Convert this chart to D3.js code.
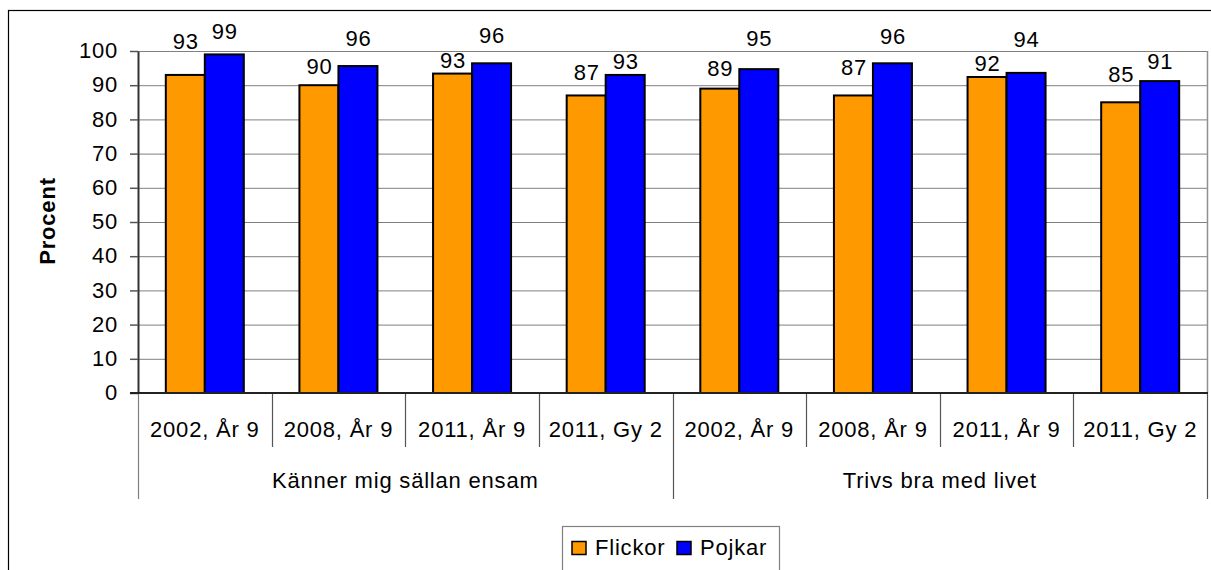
<!DOCTYPE html>
<html>
<head>
<meta charset="utf-8">
<script src="https://cdn.jsdelivr.net/npm/d3@7"></script>
<style>
    body { margin: 0; background: #fff; }
    svg { display: block; font-family: "Liberation Sans", Arial, sans-serif; }
    .lbl { font-size: 22px; letter-spacing: 0.8px; fill: #000; }
</style>
</head>
<body>
<div id="chart"></div>
<script>
"use strict";

// data
var groups = ["Känner mig sällan ensam", "Trivs bra med livet"];
var periods = ["2002, År 9", "2008, År 9", "2011, År 9", "2011, Gy 2"];
var seriesNames = ["Flickor", "Pojkar"];
var flickor = [93, 90, 93.4, 87, 89, 87, 92.4, 85];
var pojkar = [99, 95.6, 96.4, 93, 94.7, 96.4, 93.6, 91.2];
var yTicks = [0, 10, 20, 30, 40, 50, 60, 70, 80, 90, 100];

var colors = ["#FF9900", "#0000FF"];
// the value labels were nudged by hand in the original (px above bar top)
var labelLift = [
    [25.7, 11.7, 6, 15.7, 12.3, 20.7, 6, 20.3],
    [15, 20, 20.3, 5.7, 23, 19.7, 26, 11.7]
];

var width = 1211, height = 570;
var plot = { left: 138, right: 1207, top: 51, bottom: 393 };

var svg = d3.select("#chart").append("svg")
    .attr("width", width)
    .attr("height", height);

// outer chart border (runs off the right and bottom edge)
svg.append("rect")
    .attr("x", 8.5).attr("y", 10.5)
    .attr("width", width).attr("height", height)
    .attr("fill", "none").attr("stroke", "#000").attr("stroke-width", 1.2);

var cats = [];
groups.forEach(function (g) {
    periods.forEach(function (p) { cats.push(g + "|" + p); });
});

var x0 = d3.scaleBand().domain(cats).range([plot.left, plot.right]);
var bw = x0.bandwidth();
var x1 = d3.scaleBand().domain(seriesNames).range([0, bw]).paddingOuter(0.713);
var y = d3.scaleLinear().domain([0, 100]).range([plot.bottom, plot.top]);

// grid
svg.append("g").selectAll("line")
    .data(yTicks.filter(function (d) { return d > 0; }))
    .enter().append("line")
    .attr("x1", plot.left).attr("x2", plot.right)
    .attr("y1", function (d) { return y(d) + 0.5; })
    .attr("y2", function (d) { return y(d) + 0.5; })
    .attr("stroke", "#808080").attr("stroke-width", 1);

svg.append("line")
    .attr("x1", plot.right + 0.5).attr("x2", plot.right + 0.5)
    .attr("y1", plot.top).attr("y2", plot.bottom)
    .attr("stroke", "#909090").attr("stroke-width", 1.5);

// bars
var rows = cats.map(function (c, i) {
    return { cat: c, i: i, vals: [flickor[i], pojkar[i]] };
});

var cg = svg.append("g").selectAll("g")
    .data(rows)
    .enter().append("g")
    .attr("transform", function (d) { return "translate(" + x0(d.cat) + ",0)"; });

cg.selectAll("rect")
    .data(function (d) {
        return d.vals.map(function (v, s) { return { v: v, s: s, i: d.i }; });
    })
    .enter().append("rect")
    .attr("x", function (d) { return x1(seriesNames[d.s]); })
    .attr("width", x1.bandwidth())
    .attr("y", function (d) { return y(d.v); })
    .attr("height", function (d) { return y(0) - y(d.v); })
    .attr("fill", function (d) { return colors[d.s]; })
    .attr("stroke", "#000").attr("stroke-width", 2);

cg.selectAll("text")
    .data(function (d) {
        return d.vals.map(function (v, s) { return { v: v, s: s, i: d.i }; });
    })
    .enter().append("text")
    .attr("class", "lbl")
    .attr("text-anchor", "middle")
    .attr("x", function (d) { return x1(seriesNames[d.s]) + x1.bandwidth() / 2 + 0.5; })
    .attr("y", function (d) { return y(d.v) - labelLift[d.s][d.i]; })
    .text(function (d) { return Math.round(d.v); });

// y axis
var yAxis = svg.append("g")
    .attr("transform", "translate(" + plot.left + ",0)")
    .call(d3.axisLeft(y).tickValues(yTicks).tickSize(8).tickPadding(12).tickSizeOuter(0));
yAxis.select(".domain").attr("stroke", "#333").attr("stroke-width", 2);
yAxis.selectAll(".tick line").attr("stroke", "#555").attr("stroke-width", 1.5);
yAxis.selectAll(".tick text")
    .attr("class", "lbl")
    .attr("dy", "0.3em")
    .attr("font-family", null).attr("font-size", null)
    .attr("fill", "#000");

// zero line
svg.append("line")
    .attr("x1", plot.left - 8).attr("x2", plot.right + 1)
    .attr("y1", y(0)).attr("y2", y(0))
    .attr("stroke", "#222").attr("stroke-width", 2);

// category separators
var seps = d3.range(cats.length + 1);
svg.append("g").selectAll("line")
    .data(seps)
    .enter().append("line")
    .attr("x1", function (i) { return Math.round(plot.left + i * bw) + 0.5; })
    .attr("x2", function (i) { return Math.round(plot.left + i * bw) + 0.5; })
    .attr("y1", y(0) + 1)
    .attr("y2", function (i) { return i % periods.length === 0 ? 499 : 447; })
    .attr("stroke", function (i) { return i === 0 ? "#808080" : "#555"; })
    .attr("stroke-width", 1.2);

svg.append("g").selectAll("text")
    .data(cats)
    .enter().append("text")
    .attr("class", "lbl")
    .attr("text-anchor", "middle")
    .attr("x", function (d) { return x0(d) + bw / 2; })
    .attr("y", 437)
    .text(function (d) { return d.split("|")[1]; });

svg.append("g").selectAll("text")
    .data(groups)
    .enter().append("text")
    .attr("class", "lbl")
    .attr("text-anchor", "middle")
    .attr("x", function (g, gi) { return plot.left + (gi + 0.5) * bw * periods.length; })
    .attr("y", 488)
    .text(function (g) { return g; });

// y axis title
svg.append("text")
    .attr("class", "lbl")
    .attr("font-weight", "bold")
    .attr("text-anchor", "middle")
    .attr("transform", "translate(55,221) rotate(-90)")
    .text("Procent");

// legend
var legend = svg.append("g").attr("transform", "translate(562,526)");
legend.append("rect")
    .attr("x", 0.5).attr("y", 0.5)
    .attr("width", 217).attr("height", 60)
    .attr("fill", "#fff").attr("stroke", "#808080").attr("stroke-width", 1.2);

var legendX = [10, 115];
var li = legend.selectAll("g.item")
    .data(seriesNames)
    .enter().append("g")
    .attr("class", "item")
    .attr("transform", function (d, i) { return "translate(" + legendX[i] + ",0)"; });
li.append("rect")
    .attr("x", 0).attr("y", 15.5)
    .attr("width", 14).attr("height", 13)
    .attr("fill", function (d, i) { return colors[i]; })
    .attr("stroke", "#000").attr("stroke-width", 1.5);
li.append("text")
    .attr("class", "lbl")
    .attr("x", 23).attr("y", 28.5)
    .text(function (d) { return d; });
</script>
</body>
</html>
